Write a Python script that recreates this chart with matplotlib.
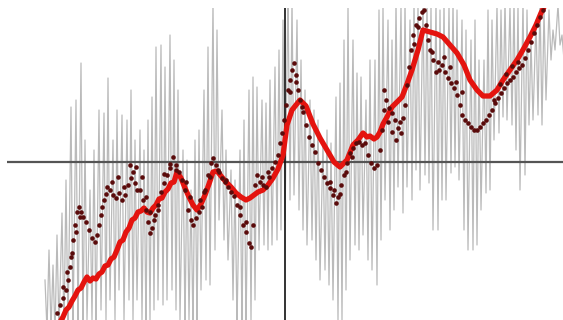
import numpy as np
import matplotlib.pyplot as plt

# monthly spikes: position, high value, low value
spike_x = [45, 49, 53, 57, 62, 66, 71, 76, 81, 85, 90, 94, 99, 104, 108, 113, 117, 122, 127, 131,
           135, 140, 144, 148, 152, 156, 161, 165, 170, 174, 178, 183, 187, 191, 195, 199, 204, 208, 213, 217,
           222, 226, 231, 235, 240, 244, 249, 253, 257, 262, 266, 270, 275, 279, 283, 288, 292, 297, 301, 305,
           310, 314, 318, 323, 327, 331, 336, 340, 344, 348, 353, 357, 361, 366, 370, 375, 379, 383, 388, 392,
           396, 401, 405, 410, 414, 418, 423, 427, 431, 436, 440, 444, 449, 453, 457, 462, 466, 471, 475, 479,
           484, 488, 492, 497, 501, 505, 510, 514, 518, 523, 527, 531, 536, 540, 544, 549, 553, 558, 562]
spike_hi = [-118, -88, -103, -73, -51, -18, 55, 62, 99, 22, -28, 12, 52, 49, 84, 22, 52, 47, 42, 72,
            22, 32, 12, 42, 65, 115, 117, 95, 127, 102, 72, 12, 2, -28, 22, 32, 72, 115, 160, 132,
            52, 12, -8, -18, 12, 42, 72, 85, 75, 62, 59, 82, 95, 112, 142, 172, 162, 142, 102, 72,
            62, 52, 42, 22, 32, 19, 65, 79, 122, 157, 122, 89, 85, 62, 102, 102, 152, 157, 142, 122,
            162, 157, 162, 142, 162, 157, 162, 162, 157, 162, 152, 162, 157, 162, 152, 142, 132, 122, 142, 102,
            102, 152, 142, 157, 152, 162, 157, 162, 157, 162, 152, 122, 142, 162, 152, 152, 132, 157, 127]
spike_lo = [-168, -168, -173, -168, -168, -168, -168, -163, -168, -158, -158, -163, -148, -158, -138, -158, -128, -158, -138, -158,
            -138, -158, -163, -158, -148, -138, -143, -138, -128, -148, -158, -163, -158, -168, -163, -128, -118, -123, -88, -58,
            -78, -98, -138, -163, -168, -168, -158, -138, -88, -83, -88, -83, -78, -68, -58, -38, -33, -48, -68, -83,
            -78, -98, -118, -108, -123, -138, -158, -158, -128, -98, -83, -88, -73, -98, -108, -123, -78, -38, -68, -48,
            -25, -51, -25, -38, -8, -28, -13, -21, -68, -68, -38, -38, -11, -5, -18, -68, -88, -88, -83, -48,
            -31, -28, 22, 29, 45, 42, 37, 12, -28, -13, 37, 42, 47, 37, 62, 102, 112, 117, 102]

# smoothed running mean
smooth_x = [60, 63, 66, 69, 72, 75, 78, 81, 84, 87, 90, 93, 96, 99, 102, 105, 108, 111, 114, 117,
            120, 123, 126, 129, 132, 135, 138, 141, 144, 147, 150, 153, 156, 159, 162, 165, 168, 171, 174, 177,
            181, 185, 189, 193, 197, 201, 205, 209, 213, 217, 221, 226, 231, 236, 241, 246, 250, 254, 258, 263,
            268, 273, 278, 283, 287, 292, 296, 300, 306, 313, 320, 327, 334, 340, 347, 353, 358, 363, 367, 370,
            374, 377, 380, 383, 387, 392, 397, 402, 407, 412, 418, 423, 430, 437, 443, 450, 457, 464, 470, 477,
            483, 490, 497, 503, 510, 517, 524, 530, 536, 541, 546]
smooth_y = [-160, -155, -148, -145, -139, -134, -128, -126, -120, -115, -119, -116, -117, -112, -110, -104, -103, -97, -95, -88,
            -80, -78, -70, -66, -58, -56, -50, -49, -46, -50, -51, -46, -43, -37, -36, -30, -27, -21, -20, -10,
            -16, -26, -35, -43, -48, -42, -33, -22, -10, -9, -14, -20, -25, -31, -35, -38, -36, -33, -30, -28,
            -23, -16, -7, 7, 37, 52, 57, 62, 56, 38, 24, 12, 0, -5, 2, 17, 22, 29, 25, 26,
            23, 25, 30, 38, 45, 55, 60, 65, 78, 92, 112, 132, 130, 128, 125, 117, 109, 97, 82, 72,
            66, 66, 72, 82, 92, 102, 114, 125, 137, 149, 159]

# annual values
annual_x = [57, 60, 63, 66, 68, 70, 72, 73, 75, 77, 79, 81, 83, 86, 89, 92, 95, 97, 99, 101,
            104, 107, 110, 113, 116, 119, 122, 125, 128, 131, 133, 135, 137, 140, 143, 146, 148, 150, 152, 155,
            158, 161, 164, 167, 170, 173, 176, 179, 182, 185, 188, 191, 193, 196, 199, 202, 205, 208, 211, 213,
            216, 219, 222, 225, 228, 231, 234, 237, 240, 243, 246, 249, 251, 253, 255, 257, 260, 263, 266, 269,
            272, 275, 278, 280, 282, 284, 286, 288, 290, 292, 294, 296, 298, 300, 303, 306, 309, 312, 315, 318,
            321, 324, 327, 330, 333, 336, 338, 341, 344, 347, 350, 353, 356, 359, 362, 365, 368, 371, 374, 377,
            380, 382, 384, 386, 389, 392, 395, 398, 401, 403, 405, 407, 409, 411, 413, 416, 419, 422, 424, 426,
            428, 430, 433, 436, 439, 442, 445, 448, 451, 454, 457, 460, 462, 465, 468, 471, 474, 477, 480, 483,
            486, 489, 492, 495, 498, 501, 504, 507, 510, 513, 516, 519, 522, 525, 528, 531, 534, 537, 540, 543]
annual_y = [-151, -143, -136, -128, -118, -105, -91, -78, -63, -50, -45, -50, -55, -60, -68, -76, -80, -73, -63, -53,
            -38, -25, -28, -33, -36, -31, -38, -33, -23, -16, -10, -21, -28, -28, -38, -48, -60, -71, -66, -53,
            -43, -30, -21, -13, -6, 5, -3, -10, -18, -28, -48, -58, -63, -56, -50, -45, -28, -13, -1, 4,
            -3, -10, -16, -20, -25, -30, -34, -43, -53, -63, -70, -81, -85, -63, -23, -13, -20, -23, -25, -15,
            -6, 0, 7, 19, 29, 42, 57, 72, 82, 92, 99, 87, 72, 62, 50, 37, 25, 17, 10, -1,
            -8, -15, -21, -26, -33, -41, -35, -23, -13, -1, 9, 14, 19, 20, 17, 19, 7, -1, -6, -3,
            12, 32, 72, 62, 54, 49, 42, 34, 29, 44, 57, 77, 95, 112, 127, 137, 144, 150, 152, 137,
            122, 112, 102, 90, 92, 97, 90, 84, 79, 74, 67, 57, 47, 42, 39, 35, 32, 32, 35, 39,
            42, 47, 52, 59, 64, 69, 74, 79, 82, 85, 90, 94, 97, 104, 112, 120, 129, 137, 145, 152]

# second record, where it departs from the first
alt_x = [63, 67, 71, 76, 80, 102, 106, 112, 118, 124, 130, 136, 142, 146, 150, 154, 158, 164, 170, 176,
         186, 190, 200, 204, 210, 218, 226, 240, 246, 262, 268, 290, 296, 302, 330, 334, 340, 346, 352, 384,
         388, 392, 396, 400, 414, 418, 432, 438, 444, 450, 456, 462, 494, 500, 506, 512, 518]
alt_y = [-125, -110, -95, -70, -55, -45, -32, -20, -15, -25, -3, -5, -15, -35, -50, -58, -48, -12, -2, -8,
         -20, -35, -38, -30, -15, -8, -18, -45, -60, -15, -10, 70, 80, 55, -20, -28, -32, -10, 5, 52,
         40, 30, 22, 40, 118, 135, 110, 100, 105, 95, 80, 70, 62, 78, 88, 96, 100]

# zigzag through high and low of each spike
gx = np.ravel(np.column_stack([spike_x, np.array(spike_x) + 2]))
gy = np.ravel(np.column_stack([spike_hi, spike_lo]))

fig = plt.figure(figsize=(5.63, 3.20), dpi=100)
ax = fig.add_axes([7 / 563, 0, 556 / 563, 312 / 320])

ax.plot(gx, gy, color='#bababa', lw=0.9, zorder=1)
ax.axhline(0, color='#555555', lw=1.6, zorder=2)
ax.axvline(285, color='#111111', lw=1.2, zorder=2)
ax.plot(smooth_x, smooth_y, color='#e4140f', lw=3.8, solid_joinstyle='round', zorder=3)
ax.plot(annual_x, annual_y, 'o', color='#5a0b0b', ms=3.3, mew=0, zorder=4)
ax.plot(alt_x, alt_y, 'o', color='#5a0b0b', ms=3.3, mew=0, zorder=4)

ax.set_xlim(7, 563)
ax.set_ylim(-158, 154)
ax.axis('off')

fig.savefig('out.png', dpi=100)
